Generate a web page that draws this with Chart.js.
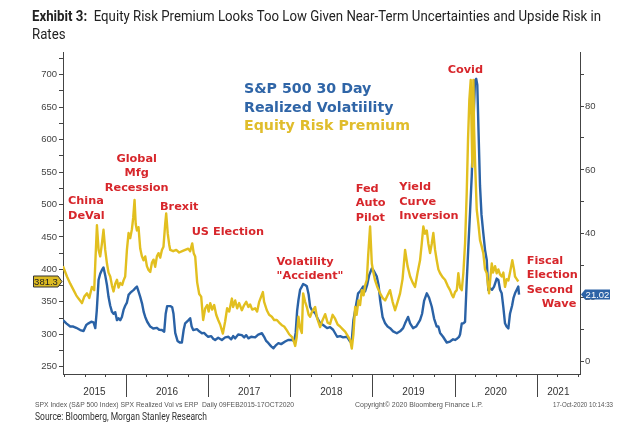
<!DOCTYPE html>
<html><head><meta charset="utf-8">
<script src="https://cdn.jsdelivr.net/npm/chart.js@4.4.0/dist/chart.umd.min.js"></script>
<style>
html,body{margin:0;padding:0;background:#fff;}
#wrap{position:relative;width:630px;height:430px;overflow:hidden;background:#fff;}
#c{position:absolute;left:0;top:0;}
.t{position:absolute;white-space:nowrap;transform-origin:0 0;}
.ann{position:absolute;white-space:nowrap;font-family:"DejaVu Sans";font-weight:bold;font-size:11.3px;line-height:14.4px;color:#D7262B;}
.leg{position:absolute;white-space:nowrap;font-family:"DejaVu Sans";font-weight:bold;font-size:14.2px;line-height:18.5px;}
</style></head><body>
<div id="wrap">
<canvas id="c" width="630" height="430"></canvas>
<div class="t fit" data-w="569" id="title" style="left:32px;top:7px;font-family:Roboto;font-size:14px;line-height:18px;color:#222;"><span class="m"><b>Exhibit 3:</b>&nbsp; Equity Risk Premium Looks Too Low Given Near-Term Uncertainties and Upside Risk in</span><br>Rates</div>

<div class="leg" style="left:244px;top:79px;color:#2F65A7;">S&amp;P 500 30 Day<br>Realized Volatiility</div>
<div class="leg" style="left:244px;top:116px;color:#E0BD2C;">Equity Risk Premium</div>

<div class="ann" style="left:68px;top:194.4px;">China<br>DeVal</div>
<div class="ann" style="left:96.7px;top:152px;width:80px;text-align:center;">Global<br>Mfg<br>Recession</div>
<div class="ann" style="left:160px;top:199.8px;">Brexit</div>
<div class="ann" style="left:191.7px;top:224.8px;">US Election</div>
<div class="ann" style="left:276.5px;top:255px;">Volatility<br>"Accident"</div>
<div class="ann" style="left:355.7px;top:182px;">Fed<br>Auto<br>Pilot</div>
<div class="ann" style="left:399.3px;top:180.4px;">Yield<br>Curve<br>Inversion</div>
<div class="ann" style="left:447.7px;top:63px;">Covid</div>
<div class="ann" style="left:526.7px;top:253.8px;">Fiscal<br>Election<br>Second</div>
<div class="ann" style="left:541.7px;top:296.8px;">Wave</div>

<div class="t fit" data-w="259" style="left:35px;top:401px;font-family:'Liberation Sans';font-size:7px;line-height:8px;color:#555;"><span class="m">SPX Index (S&amp;P 500 Index) SPX Realized Vol vs ERP&nbsp; Daily 09FEB2015-17OCT2020</span></div>
<div class="t fit" data-w="128" style="left:355px;top:401px;font-family:'Liberation Sans';font-size:7px;line-height:8px;color:#555;"><span class="m">Copyright© 2020 Bloomberg Finance L.P.</span></div>
<div class="t fit" data-w="60" style="left:553px;top:401px;font-family:'Liberation Sans';font-size:7px;line-height:8px;color:#555;"><span class="m">17-Oct-2020 10:14:33</span></div>
<div class="t fit" data-w="172" style="left:35px;top:411px;font-family:Roboto;font-size:10px;line-height:12px;color:#333;"><span class="m">Source: Bloomberg, Morgan Stanley Research</span></div>
</div>
<script>
// ---- data (x = decimal year) ----
const erpDates = [2015.234,2015.282,2015.322,2015.363,2015.395,2015.423,2015.465,2015.493,2015.526,2015.554,2015.586,2015.614,2015.627,2015.647,2015.667,2015.687,2015.708,2015.727,2015.748,2015.769,2015.788,2015.809,2015.830,2015.849,2015.870,2015.891,2015.910,2015.931,2015.955,2015.971,2015.991,
2016.012,2016.032,2016.052,2016.073,2016.089,2016.105,2016.119,2016.134,2016.153,2016.174,2016.195,2016.214,2016.235,2016.255,2016.275,2016.296,2016.316,2016.336,2016.356,2016.377,2016.397,2016.417,2016.438,2016.457,2016.478,2016.490,2016.509,2016.527,2016.539,2016.575,2016.612,2016.648,2016.685,2016.721,2016.758,2016.782,2016.807,2016.825,2016.843,2016.867,2016.892,2016.916,2016.940,2016.965,2016.989,
2017.007,2017.026,2017.050,2017.074,2017.099,2017.123,2017.147,2017.180,2017.208,2017.232,2017.257,2017.290,2017.305,2017.330,2017.354,2017.378,2017.411,2017.439,2017.464,2017.491,2017.512,2017.537,2017.573,2017.597,2017.622,2017.646,2017.667,2017.682,2017.715,2017.743,2017.776,2017.804,2017.837,2017.865,2017.898,2017.926,2017.959,2017.987,
2018.019,2018.041,2018.060,2018.078,2018.100,2018.120,2018.141,2018.157,2018.181,2018.202,2018.224,2018.242,2018.266,2018.303,2018.327,2018.364,2018.388,2018.425,2018.455,2018.485,2018.516,2018.546,2018.577,2018.607,2018.637,2018.668,2018.698,2018.729,2018.749,2018.769,2018.790,2018.808,2018.830,2018.850,2018.871,2018.893,2018.911,2018.932,2018.948,2018.972,2018.993,
2019.012,2019.033,2019.063,2019.094,2019.124,2019.155,2019.185,2019.215,2019.246,2019.276,2019.307,2019.337,2019.367,2019.398,2019.428,2019.459,2019.489,2019.519,2019.550,2019.580,2019.601,2019.620,2019.641,2019.662,2019.681,2019.702,2019.723,2019.742,2019.763,2019.783,2019.803,2019.824,2019.854,2019.884,2019.915,2019.945,2019.970,2019.985,
2020.006,2020.027,2020.046,2020.067,2020.088,2020.107,2020.128,2020.148,2020.164,2020.180,2020.197,2020.207,2020.217,2020.229,2020.237,2020.249,2020.270,2020.290,2020.310,2020.331,2020.350,2020.371,2020.392,2020.408,2020.420,2020.438,2020.453,2020.468,2020.493,2020.513,2020.533,2020.554,2020.574,2020.594,2020.614,2020.635,2020.655,2020.675,2020.703,2020.724,2020.736,2020.757,2020.776];
const erpValues = [405,389,378,368,360,355,348,358,363,356,373,368,409,468,430,420,440,461,430,409,395,389,375,366,378,384,372,379,376,383,389,
430,456,448,462,480,507,470,460,465,432,420,414,420,405,399,396,410,415,404,420,425,418,430,435,470,486,455,438,430,428,430,426,428,430,432,428,440,425,420,380,362,358,322,340,345,
335,348,338,345,330,322,315,301,320,340,335,355,342,352,340,348,337,345,350,342,346,338,340,335,350,358,365,350,337,330,327,322,322,318,314,312,306,300,
296,290,282,295,327,310,302,363,350,342,330,327,335,342,325,311,320,331,318,316,330,324,315,312,308,304,298,291,278,300,342,330,352,345,368,360,375,384,420,466,409,
395,383,372,363,356,352,360,368,350,337,350,363,385,430,405,389,380,373,395,414,440,466,455,460,440,425,440,456,430,414,400,394,388,384,375,368,360,357,
365,368,394,372,368,394,440,517,600,661,692,620,558,692,620,568,492,470,445,435,425,400,394,375,363,390,409,395,405,394,400,392,389,395,373,385,383,395,414,400,389,385,381.3];

const volDates = [2015.234,2015.274,2015.322,2015.359,2015.395,2015.444,2015.484,2015.517,2015.545,2015.578,2015.606,2015.627,2015.645,2015.667,2015.687,2015.708,2015.727,2015.748,2015.769,2015.788,2015.809,2015.830,2015.849,2015.870,2015.891,2015.910,2015.931,2015.951,2015.971,2015.991,
2016.012,2016.032,2016.052,2016.073,2016.092,2016.113,2016.134,2016.153,2016.174,2016.198,2016.217,2016.235,2016.259,2016.296,2016.332,2016.377,2016.405,2016.438,2016.466,2016.484,2016.502,2016.539,2016.563,2016.579,2016.600,2016.628,2016.655,2016.681,2016.703,2016.721,2016.762,2016.782,2016.800,2016.819,2016.864,2016.892,2016.925,2016.953,2016.977,
2017.001,2017.038,2017.062,2017.086,2017.123,2017.168,2017.208,2017.248,2017.281,2017.305,2017.330,2017.366,2017.411,2017.439,2017.464,2017.491,2017.524,2017.573,2017.610,2017.655,2017.682,2017.707,2017.735,2017.768,2017.796,2017.828,2017.856,2017.889,2017.938,2017.974,
2018.019,2018.047,2018.066,2018.084,2018.100,2018.120,2018.141,2018.157,2018.181,2018.202,2018.224,2018.242,2018.266,2018.303,2018.333,2018.364,2018.400,2018.449,2018.485,2018.522,2018.571,2018.607,2018.644,2018.692,2018.729,2018.747,2018.769,2018.790,2018.826,2018.850,2018.887,2018.911,2018.936,2018.960,2018.993,
2019.015,2019.054,2019.075,2019.094,2019.124,2019.155,2019.185,2019.215,2019.252,2019.297,2019.337,2019.374,2019.398,2019.434,2019.459,2019.495,2019.532,2019.580,2019.605,2019.629,2019.662,2019.690,2019.723,2019.751,2019.783,2019.803,2019.824,2019.860,2019.905,2019.945,2019.982,
2020.006,2020.030,2020.055,2020.067,2020.088,2020.107,2020.128,2020.148,2020.168,2020.189,2020.209,2020.225,2020.237,2020.249,2020.264,2020.277,2020.292,2020.310,2020.328,2020.350,2020.371,2020.392,2020.411,2020.432,2020.456,2020.481,2020.513,2020.533,2020.554,2020.574,2020.594,2020.614,2020.633,2020.655,2020.675,2020.700,2020.718,2020.736,2020.757,2020.776,2020.785];
const volValues = [13,12,11,11,10.6,9.9,9.6,11.5,12,12.5,12.3,10.5,16,25.6,27.5,28.7,29.5,27,24,20.3,17.5,15.6,15,15.5,13,13.6,13,14,16.2,17.5,
18.5,20.9,21.5,22,22.4,23,23.5,22,20.3,18,15.5,14,12.5,11,10.4,10.6,10,9.9,9.4,15,17.4,17.4,17,15,9,6.5,6,6,10,12,13,13.6,11,9.9,10.2,9.5,8.9,9,8.3,
7.8,8,7.2,6.8,7.5,6.8,7.6,7.8,7,8,7.3,8.5,8.3,7.6,8.3,7.3,7.8,7.6,8.5,8.9,7.8,6.5,5.8,4.8,4.2,5.2,5.8,5.5,6.3,6.8,
6.8,6.5,9,16,19.3,22.5,23.5,24.3,24,23.6,21,17.2,16,15.2,13.5,12.1,11.5,10.5,10.8,10,7.8,8,7.6,7.8,6.3,6,13,16,21.4,22,23.5,22,24,27,29.2,
28.5,26.6,24,19.3,14,12,11,10.5,9.5,8.9,9.5,10.5,12,14,12,10.5,11,13,15,19,21.4,20,17.2,13.5,11,11,9,7.8,6,6.3,7,
6.8,7.2,7.8,8.5,12,12,12.5,25,36,47,58,70,80,88,88.5,86.6,72,55,46,40.2,35,31.8,22.4,23,22.5,23.5,26,25.6,22.5,21.4,17,12,11,10.4,15,17.5,20,21.4,22.5,23.5,21.02];

const yearLabels = ['2015','2016','2017','2018','2019','2020','2021'];
const leftTicks = [250,275,300,325,350,375,400,425,450,475,500,525,550,575,600,625,650,675,700,725];
const leftLabelled = [250,300,350,400,450,500,550,600,650,700];
const rightTicks = [0,10,20,30,40,50,60,70,80,90];
const rightLabelled = [0,20,40,60,80];

// ---- styling ----
const YEL = '#E2BF1F', BLU = '#2A62A6', AX = '#444';
const X_MIN = 2015.234, X_MAX = 2021.527;
const L_MIN = 238.75, L_MAX = 735, R_MIN = -3.85, R_MAX = 96.9;

const erpPoints = erpDates.map((d,i)=>({x:d,y:erpValues[i]}));
const volPoints = volDates.map((d,i)=>({x:d,y:volValues[i]}));

const axisPlugin = {
  id:'axisDeco',
  afterDraw(chart){
    const {ctx, chartArea:a, scales:{x, yL, yR}} = chart;
    ctx.save();
    ctx.strokeStyle = AX; ctx.lineWidth = 1;
    const first = Math.ceil(x.min*4)/4;
    for (let k = 0; first + k*0.25 <= x.max + 1e-9; k++) {
      const q = first + k*0.25;
      const px = Math.round(x.getPixelForValue(q)) + 0.5;
      const isYear = Math.abs(q - Math.round(q)) < 1e-6;
      ctx.beginPath(); ctx.moveTo(px, a.bottom); ctx.lineTo(px, a.bottom + (isYear ? 23 : 3)); ctx.stroke();
    }
    ctx.fillStyle = '#333'; ctx.font = '10px "Liberation Sans"';
    ctx.textAlign = 'center'; ctx.textBaseline = 'middle';
    yearLabels.forEach(lbl => {
      const y0 = Math.max(+lbl, x.min), y1 = Math.min(+lbl + 1, x.max);
      if (y1 <= y0) return;
      const cx = (x.getPixelForValue(y0) + x.getPixelForValue(y1)) / 2;
      ctx.fillText(lbl, cx, a.bottom + 18.5);
    });
    // last value tags
    const lastE = erpValues[erpValues.length-1];
    const lastV = volValues[volValues.length-1];
    let ty = yL.getPixelForValue(lastE);
    ctx.beginPath();
    ctx.moveTo(33.5, ty-5.5); ctx.lineTo(58, ty-5.5); ctx.lineTo(62, ty); ctx.lineTo(58, ty+5.5); ctx.lineTo(33.5, ty+5.5); ctx.closePath();
    ctx.fillStyle = '#DDBB22'; ctx.fill(); ctx.strokeStyle = '#333'; ctx.stroke();
    ctx.fillStyle = '#222'; ctx.font = '9.5px "Liberation Sans"'; ctx.textAlign='center';
    ctx.fillText(lastE.toFixed(1), 46, ty+0.5);
    ty = yR.getPixelForValue(lastV);
    ctx.beginPath();
    ctx.moveTo(581, ty); ctx.lineTo(585, ty-5); ctx.lineTo(610, ty-5); ctx.lineTo(610, ty+5); ctx.lineTo(585, ty+5); ctx.closePath();
    ctx.fillStyle = '#2D63A6'; ctx.fill();
    ctx.fillStyle = '#fff';
    ctx.fillText(lastV.toFixed(2), 597.5, ty+0.5);
    ctx.restore();
  }
};

new Chart(document.getElementById('c').getContext('2d'), {
  type:'line',
  data:{datasets:[
    {label:'Equity Risk Premium', data:erpPoints, yAxisID:'yL', borderColor:YEL, borderWidth:2.4, pointRadius:0, tension:0, borderJoinStyle:'round'},
    {label:'S&P 500 30 Day Realized Volatility', data:volPoints, yAxisID:'yR', borderColor:BLU, borderWidth:2.4, pointRadius:0, tension:0, borderJoinStyle:'round'}
  ]},
  options:{
    responsive:false, animation:false, devicePixelRatio:1,
    layout:{padding:{top:52,left:0,right:0,bottom:0}},
    plugins:{legend:{display:false}, tooltip:{enabled:false}, title:{display:false}},
    scales:{
      x:{type:'linear', min:X_MIN, max:X_MAX, ticks:{display:false}, grid:{display:false}, border:{display:true,color:AX,width:1},
         afterFit(s){ s.height = 56; }},
      yL:{type:'linear', position:'left', min:L_MIN, max:L_MAX,
         afterBuildTicks(s){ s.ticks = leftTicks.map(v=>({value:v})); },
         ticks:{autoSkip:false, padding:2, color:'#444', font:{family:'Liberation Sans', size:9.5},
                callback:(v)=> leftLabelled.includes(v) ? String(v) : ''},
         grid:{drawOnChartArea:false, drawTicks:true, tickLength:4, tickColor:AX},
         border:{display:true,color:AX,width:1},
         afterFit(s){ s.width = 63; }},
      yR:{type:'linear', position:'right', min:R_MIN, max:R_MAX,
         afterBuildTicks(s){ s.ticks = rightTicks.map(v=>({value:v})); },
         ticks:{autoSkip:false, padding:1, color:'#444', font:{family:'Liberation Sans', size:9.5},
                callback:(v)=> rightLabelled.includes(v) ? String(v) : ''},
         grid:{drawOnChartArea:false, drawTicks:true, tickLength:4, tickColor:AX},
         border:{display:true,color:AX,width:1},
         afterFit(s){ s.width = 50; }}
    }
  },
  plugins:[axisPlugin]
});

function fitAll(){
  document.querySelectorAll('.fit').forEach(el=>{
    el.style.transform='none';
    const m = el.querySelector('.m');
    const w = m.getBoundingClientRect().width;
    const target = +el.dataset.w;
    if (w > 0) el.style.transform = 'scaleX(' + (target/w) + ')';
  });
}
fitAll();
if (document.fonts && document.fonts.ready) document.fonts.ready.then(fitAll);
</script>
</body></html>
